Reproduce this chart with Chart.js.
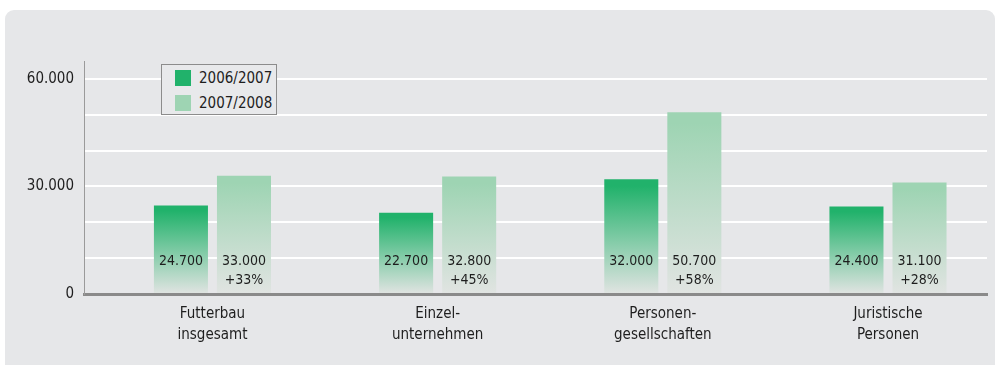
<!DOCTYPE html>
<html lang="de">
<head>
<meta charset="utf-8">
<title>Futterbau – Einkommensentwicklung</title>
<script src="https://cdn.jsdelivr.net/npm/chart.js@4.4.1/dist/chart.umd.min.js"></script>
<style>
  html, body { margin: 0; padding: 0; background: #ffffff; }
  body { width: 997px; height: 367px; position: relative; overflow: hidden;
         font-family: 'DejaVu Sans Condensed', 'Liberation Sans Narrow', sans-serif; }
  #panel { position: absolute; left: 5px; top: 10px; width: 990px; height: 355px;
           background: #e6e7e9; border-radius: 9px 9px 0 0; }
  #wrap { position: absolute; left: 0; top: 0; width: 997px; height: 367px; }
  #legend { position: absolute; left: 161px; top: 64px; width: 114px; height: 49px;
            border: 1px solid #8c8c8c; background: #e8e9eb; }
  #legend .item { position: absolute; left: 13px; height: 16px; line-height: 16px;
                  font-size: 15px; color: #1e1e1e; white-space: nowrap; }
  #legend .sw { display: inline-block; width: 16px; height: 16px; vertical-align: top; margin-right: 8px; }
</style>
</head>
<body>
<div id="panel"></div>
<div id="wrap"><canvas id="c" width="997" height="367"></canvas></div>
<div id="legend"></div>
<script>
// Betriebsformen im Futterbau
const categories = [
  ['Futterbau', 'insgesamt'],
  ['Einzel-', 'unternehmen'],
  ['Personen-', 'gesellschaften'],
  ['Juristische', 'Personen']
];
const seriesNames = ['2006/2007', '2007/2008'];
const values0607 = [24700, 22700, 32000, 24400];
const values0708 = [33000, 32800, 50700, 31100];
const changeLabels = ['+33%', '+45%', '+58%', '+28%'];
const yGridValues = [0, 10000, 20000, 30000, 40000, 50000, 60000];
const yTickValues = [0, 30000, 60000];

const FONT = "'DejaVu Sans Condensed', 'Liberation Sans Narrow', sans-serif";
const colDark = '#21b26b';
const colLight = '#9ed4b3';
const fadeTo = '#e1e4e2';
const textCol = '#1e1e1e';

const fmt = v => v.toLocaleString('de-DE');

function fadeFill(color) {
  return (ctx) => {
    const chart = ctx.chart;
    const area = chart.chartArea;
    if (!area || ctx.type !== 'data') return color;
    const y = chart.scales.y;
    const top = y.getPixelForValue(ctx.raw.y);
    const g = chart.ctx.createLinearGradient(0, top, 0, area.bottom);
    g.addColorStop(0, color);
    g.addColorStop(0.06, color);
    g.addColorStop(1, fadeTo);
    return g;
  };
}

// legend box
const legendEl = document.getElementById('legend');
[colDark, colLight].forEach((c, i) => {
  const d = document.createElement('div');
  d.className = 'item';
  d.style.top = (5 + i * 25) + 'px';
  d.innerHTML = '<span class="sw" style="background:' + c + '"></span>' + seriesNames[i];
  legendEl.appendChild(d);
});

// value and change labels inside the bars
const barLabels = {
  id: 'barLabels',
  afterDatasetsDraw(chart) {
    const c = chart.ctx;
    const bottom = chart.chartArea.bottom;
    c.save();
    c.font = '14px ' + FONT;
    c.fillStyle = textCol;
    c.textAlign = 'center';
    c.textBaseline = 'middle';
    chart.data.datasets.forEach((ds, di) => {
      chart.getDatasetMeta(di).data.forEach((bar, i) => {
        c.fillText(fmt(ds.data[i].y), bar.x, bottom - 33);
        if (di === 1) c.fillText(changeLabels[i], bar.x, bottom - 14);
      });
    });
    c.restore();
  }
};

const toPoints = arr => arr.map((v, i) => ({ x: i, y: v }));

new Chart(document.getElementById('c'), {
  type: 'bar',
  data: {
    datasets: [
      { label: seriesNames[0], data: toPoints(values0607), backgroundColor: fadeFill(colDark) },
      { label: seriesNames[1], data: toPoints(values0708), backgroundColor: fadeFill(colLight) }
    ]
  },
  options: {
    responsive: false,
    animation: false,
    categoryPercentage: 0.56,
    barPercentage: 0.857,
    layout: { padding: { left: 0, right: 10, top: 61, bottom: 23 } },
    plugins: { legend: { display: false }, tooltip: { enabled: false } },
    scales: {
      x: {
        type: 'linear',
        offset: false,
        min: -0.5705,
        max: 3.4397,
        afterBuildTicks: s => { s.ticks = categories.map((_, i) => ({ value: i })); },
        afterFit: s => { s.height = 50; },
        grid: { display: false, drawTicks: false },
        border: { display: true, color: '#8a8a8a', width: 3 },
        ticks: {
          autoSkip: false,
          maxRotation: 0,
          padding: 10,
          color: textCol,
          font: { family: FONT, size: 15, lineHeight: 1.4 },
          callback: v => categories[v]
        }
      },
      y: {
        min: 0,
        max: 65000,
        afterBuildTicks: s => { s.ticks = yGridValues.map(v => ({ value: v })); },
        afterFit: s => { s.width = 84; },
        grid: { color: '#ffffff', lineWidth: 2, drawTicks: false },
        border: { display: true, color: '#9a9a9a', width: 1 },
        ticks: {
          autoSkip: false,
          padding: 10,
          color: textCol,
          font: { family: FONT, size: 15 },
          callback: v => yTickValues.includes(v) ? fmt(v) : ''
        }
      }
    }
  },
  plugins: [barLabels]
});
</script>
</body>
</html>
